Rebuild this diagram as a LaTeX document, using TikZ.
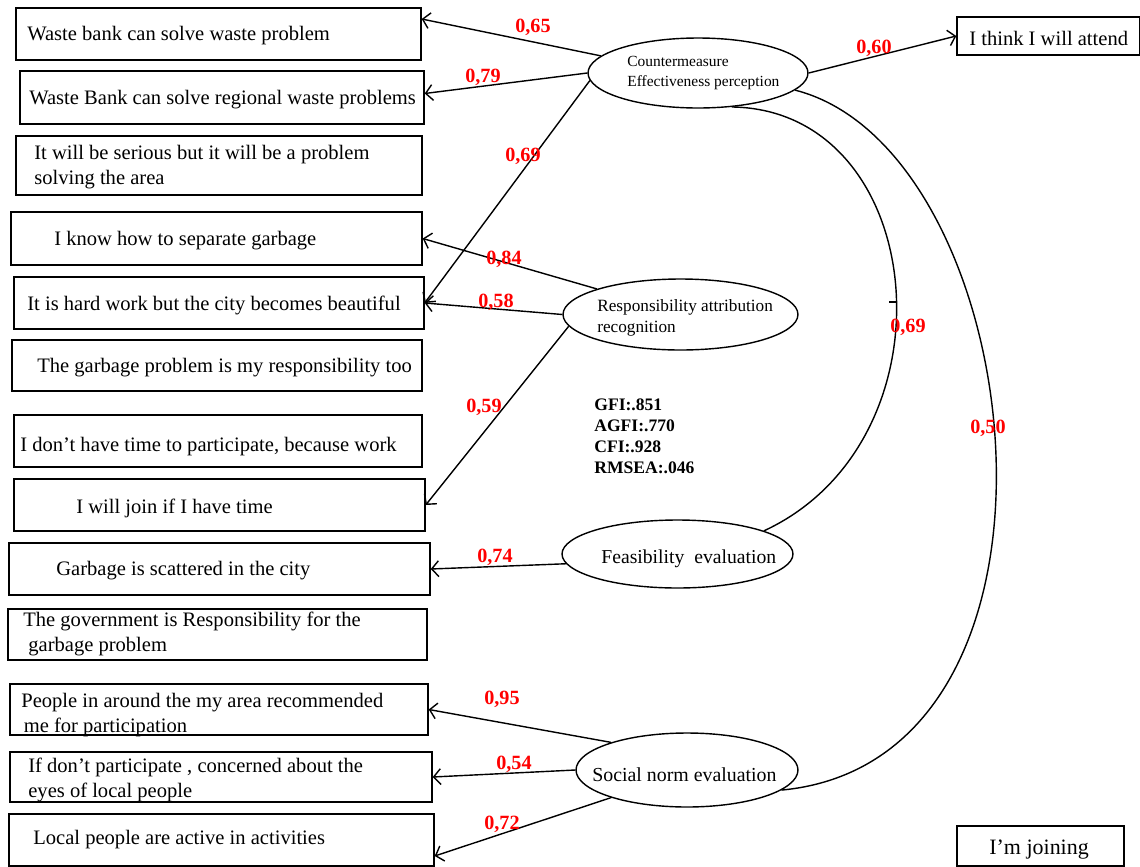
\documentclass[tikz,border=0pt]{standalone}
\usepackage{fontspec}
\setmainfont{Liberation Serif}
\usetikzlibrary{arrows.meta, fit, shapes.geometric}
\definecolor{wred}{HTML}{FF0000}
\tikzset{
  % indicatore osservato (riquadro)
  item/.style={draw=black, line width=0.8pt, inner sep=0pt},
  itemtext/.style={anchor=west, align=left, inner sep=0pt, font=\fontsize{11.7}{14}\selectfont},
  % variabile latente
  latent/.style={ellipse, draw=black, line width=0.8pt, inner sep=0pt},
  lattext/.style={anchor=west, align=left, inner sep=0pt},
  % saturazioni e covarianze
  loadarr/.style={-{Straight Barb[length=4pt,width=9pt]}, line width=0.8pt},
  covar/.style={line width=0.8pt},
  % coefficienti in rosso
  weight/.style={font=\fontsize{11.5}{12}\selectfont\bfseries, text=wred, inner sep=0pt},
  % indici di adattamento
  fitidx/.style={anchor=north west, align=left, inner sep=0pt, font=\fontsize{10}{12}\selectfont\bfseries},
}

\begin{document}
\begin{tikzpicture}[x=0.02cm, y=-0.02cm]
  \useasboundingbox (0,0) rectangle (1140,866);
  % indicatori a sinistra
  \node[item, fit={(16,8) (421,60)}] (q1) {};
  \node[itemtext] (t1) at (27,36) {Waste bank can solve waste problem};
  \node[item, fit={(20,71) (424,124)}] (q2) {};
  \node[itemtext] (t2) at (29,100) {Waste Bank can solve regional waste problems};
  \node[item, fit={(16,136) (422,195)}] (q3) {};
  \node[itemtext] (t3) at (34,167) {It will be serious but it will be a problem\\solving the area};
  \node[item, fit={(11,212) (422,265)}] (q4) {};
  \node[itemtext] (t4) at (54,241) {I know how to separate garbage};
  \node[item, fit={(14,277) (424,329)}] (q5) {};
  \node[itemtext] (t5) at (27,305) {It is hard work but the city becomes beautiful};
  \node[item, fit={(12,340) (422,391)}] (q6) {};
  \node[itemtext] (t6) at (37,368) {The garbage problem is my responsibility too};
  \node[item, fit={(14,415) (422,467)}] (q7) {};
  \node[itemtext] (t7) at (20,447) {I don’t have time to participate, because work};
  \node[item, fit={(14,479) (425,531)}] (q8) {};
  \node[itemtext] (t8) at (76,508) {I will join if I have time};
  \node[item, fit={(9,543) (430,595)}] (q9) {};
  \node[itemtext] (t9) at (56,571) {Garbage is scattered in the city};
  \node[item, fit={(8,609) (427,660)}] (q10) {};
  \node[itemtext] (t10) at (23,634) {The government is Responsibility for the\\\hspace*{0.1cm}garbage problem};
  \node[item, fit={(10,684) (428,735)}] (q11) {};
  \node[itemtext] (t11) at (21,715) {People in around\ the my area recommended\\\hspace*{0.05cm}me for participation};
  \node[item, fit={(10,752) (432,802)}] (q12) {};
  \node[itemtext] (t12) at (28,780) {If don’t participate , concerned about the\\eyes of local people};
  \node[item, fit={(9,814) (434,866)}] (q13) {};
  \node[itemtext] (t13) at (33,840) {Local people are active in activities};
  % indicatori a destra
  \node[item, fit={(957,17) (1140,55)}] (q14) {};
  \node[itemtext, font=\fontsize{11.7}{14}\selectfont] (t14) at (969,38) {I think I will attend};
  \node[item, fit={(957,826) (1124,866)}] (q15) {};
  \node[itemtext, font=\fontsize{12.5}{14}\selectfont] (t15) at (989,850) {I'm joining};

  % variabili latenti
  \node[latent, minimum width=4.4cm, minimum height=1.4cm] (ce) at (698,73) {};
  \node[lattext, font=\fontsize{8.8}{11.3}\selectfont] (tce) at (627,73) {Countermeasure\\Effectiveness\ perception};
  \node[latent, minimum width=4.7cm, minimum height=1.42cm] (ra) at (680.5,314.5) {};
  \node[lattext, font=\fontsize{9.8}{12}\selectfont] (tra) at (597,318) {Responsibility attribution\\recognition};
  \node[latent, minimum width=4.62cm, minimum height=1.36cm] (fe) at (677.5,554) {};
  \node[lattext, font=\fontsize{11.2}{13}\selectfont] (tfe) at (601,559) {Feasibility\ \ evaluation};
  \node[latent, minimum width=4.44cm, minimum height=1.48cm] (sn) at (687,770) {};
  \node[lattext, font=\fontsize{11.3}{13}\selectfont] (tsn) at (592,775) {Social norm evaluation};

  % saturazioni
  \draw[loadarr] (ce.170) -- ([yshift=0.3cm]q1.east);
  \draw[loadarr] (ce.west) -- ([yshift=0.08cm]q2.east);
  \draw[loadarr] (ce.184) -- (q5.east);
  \draw[loadarr] (ce.east) -- (q14.west);
  \draw[loadarr] (ra.163) -- (q4.east);
  \draw[loadarr] (ra.west) -- (q5.east);
  \draw[loadarr] (ra.186) -- (q8.east);
  \draw[loadarr] (fe.185) -- (q9.east);
  \draw[loadarr] (sn.160) -- (q11.east);
  \draw[loadarr] (sn.west) -- (q12.east);
  \draw[loadarr] (sn.200) -- ([yshift=-0.32cm]q13.east);

  % covarianze
  \draw[covar] (ce.-45) .. controls (930,110) and (960,440) .. (fe.15);
  \draw[covar] (ce.-10) .. controls (1030,150) and (1100,760) .. (sn.-12);
  \draw[covar] (889,302) -- (896,302);

  % coefficienti
  \node[weight] (w1) at (533,27) {0,65};
  \node[weight] (w2) at (483,77) {0,79};
  \node[weight] (w3) at (523,156) {0,69};
  \node[weight] (w4) at (874,48) {0,60};
  \node[weight] (w5) at (504,259) {0,84};
  \node[weight] (w6) at (496,302) {0,58};
  \node[weight] (w7) at (484,407) {0,59};
  \node[weight] (w8) at (495,557) {0,74};
  \node[weight] (w9) at (502,699) {0,95};
  \node[weight] (w10) at (514,764) {0,54};
  \node[weight] (w11) at (502,824) {0,72};
  \node[weight] (w12) at (908,327) {0,69};
  \node[weight] (w13) at (988,428) {0,50};

  \node[fitidx] (gof) at (594,398) {GFI:.851\\AGFI:.770\\CFI:.928\\RMSEA:.046};
\end{tikzpicture}
\end{document}
